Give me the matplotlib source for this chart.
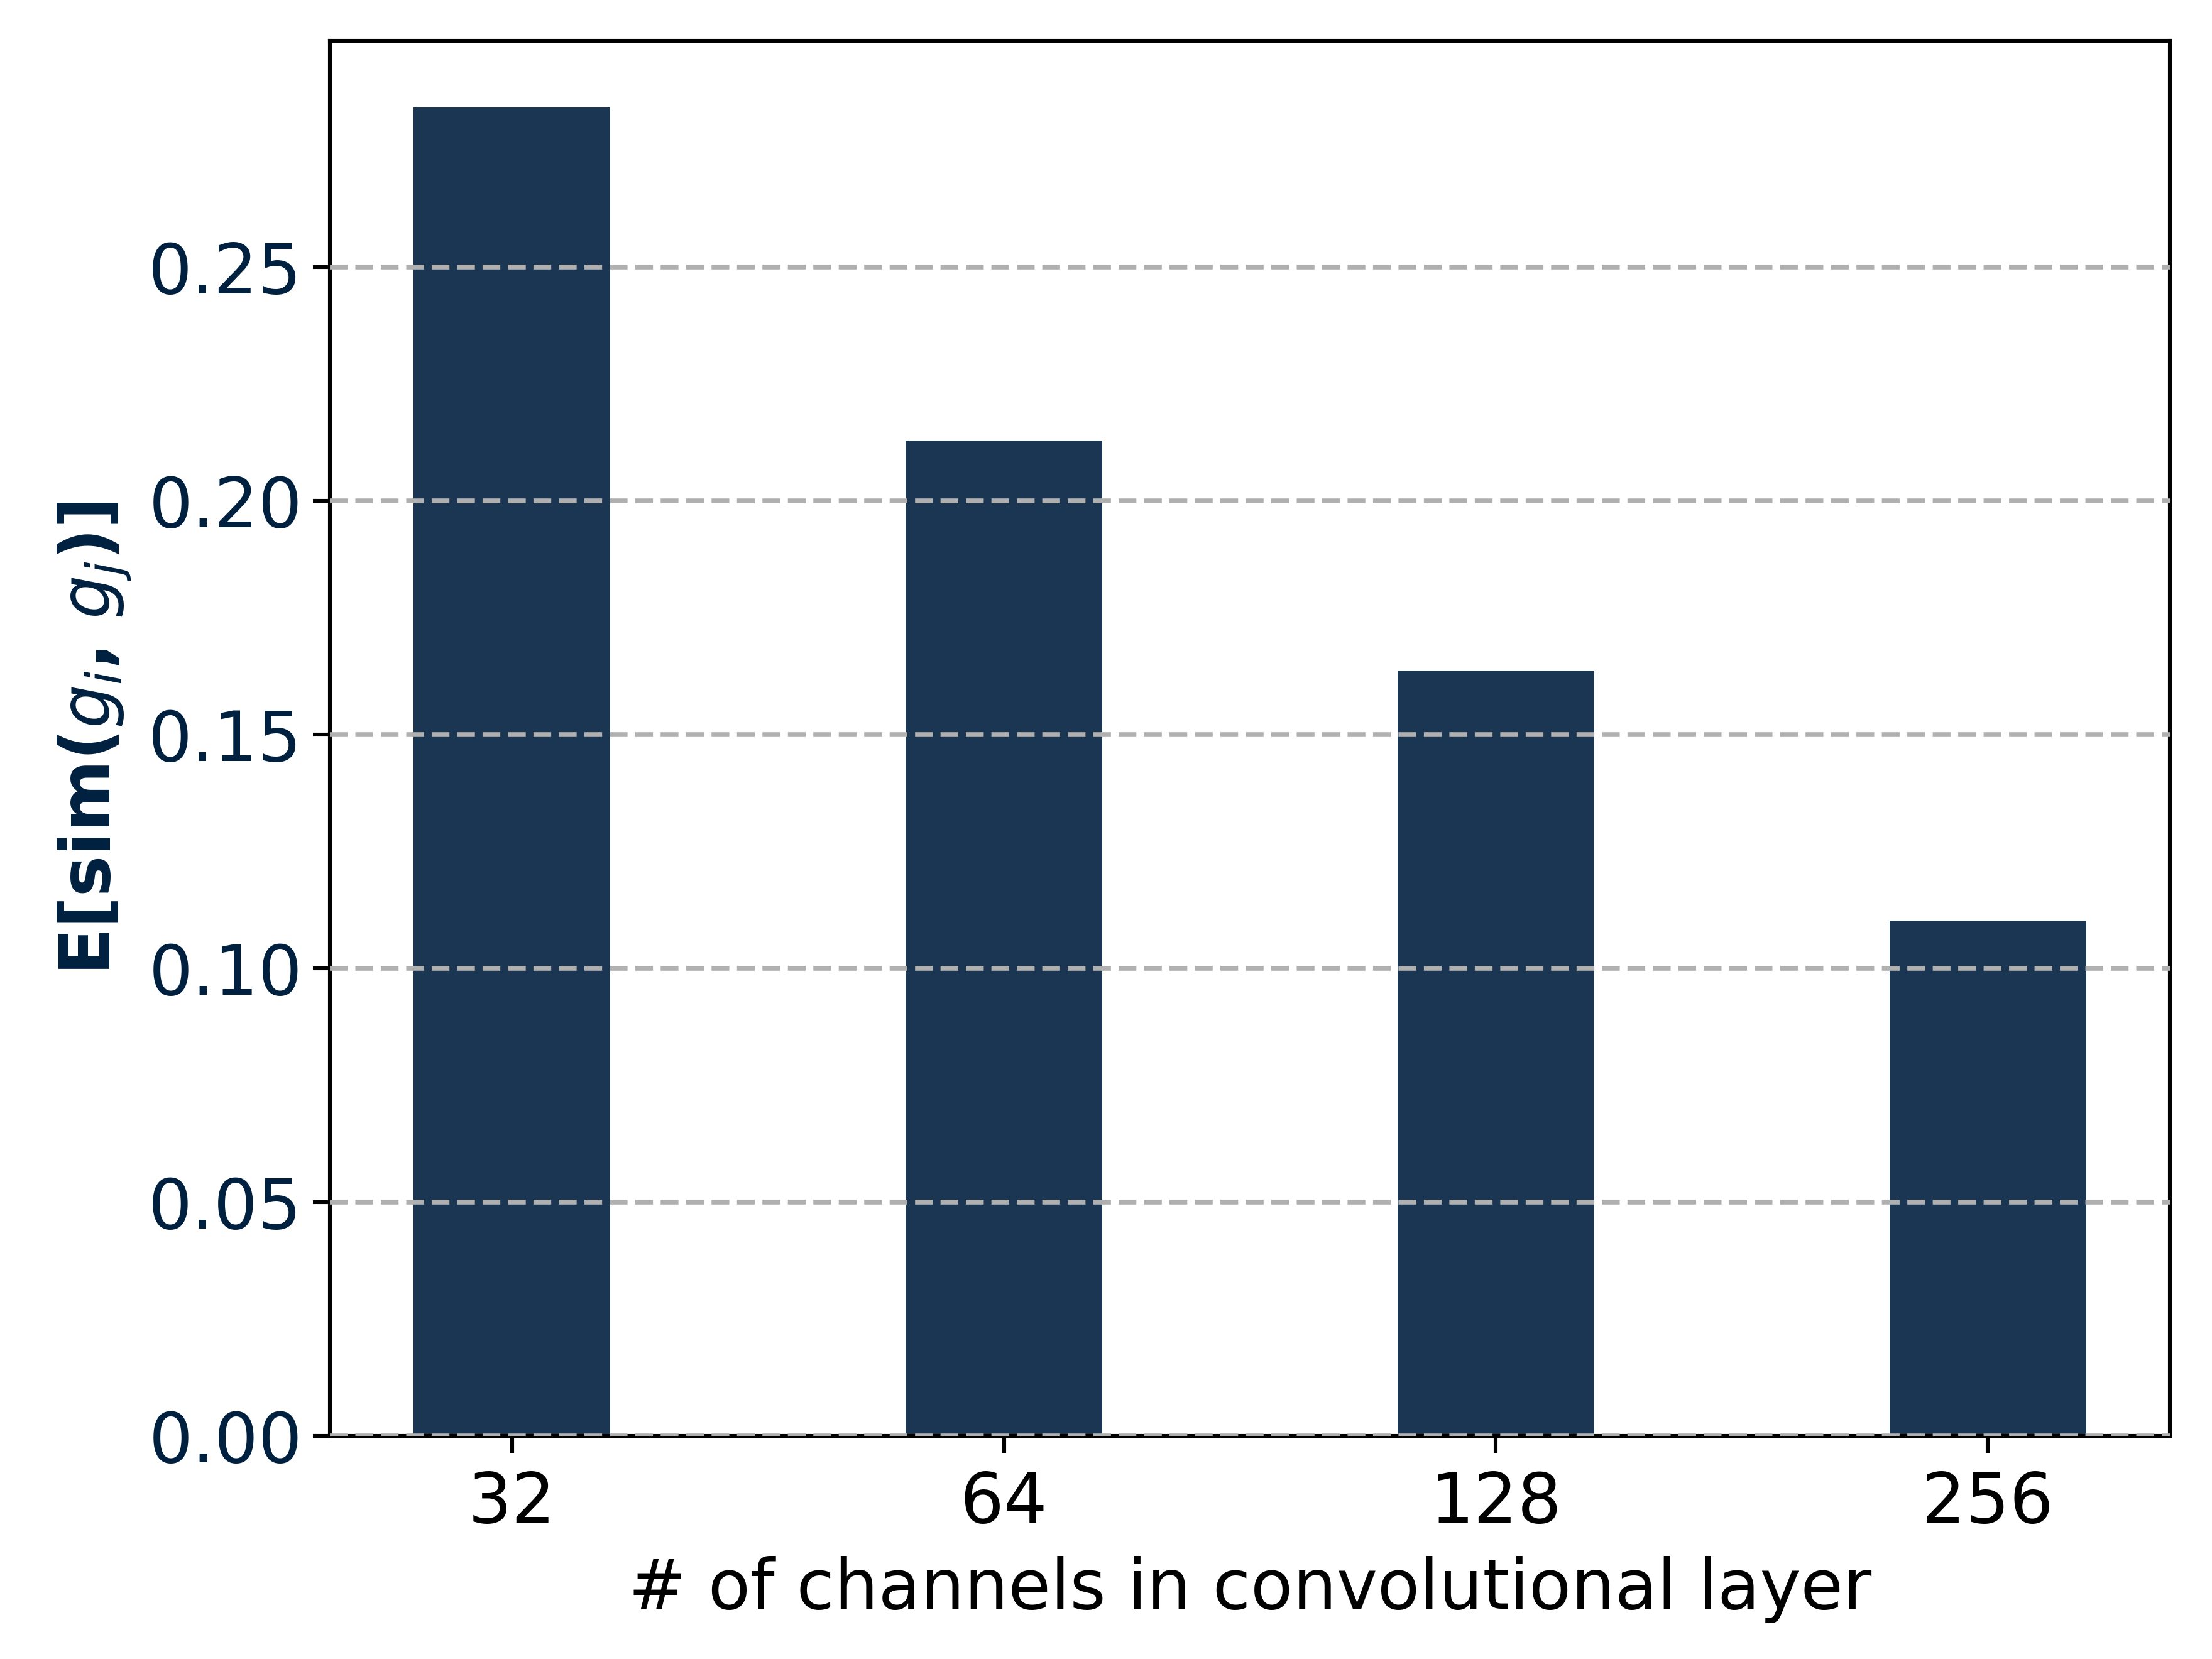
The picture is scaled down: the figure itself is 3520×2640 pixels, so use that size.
import matplotlib
matplotlib.use("Agg")
import matplotlib.pyplot as plt

# mean gradient similarity vs. conv width
channels = ["32", "64", "128", "256"]
sim_mean = [0.2842, 0.2130, 0.1638, 0.1102]

BAR = "#1b3652"
NAVY = "#002040"
FS = 14.4

fig, ax = plt.subplots(figsize=(6.4, 4.8), dpi=550)
x = range(len(channels))
ax.bar(x, sim_mean, width=0.4, color=BAR, zorder=1)
ax.set_xticks(list(x))
ax.set_xticklabels(channels, fontsize=FS)
ax.tick_params(axis="y", labelsize=FS, labelcolor=NAVY, pad=2.3)
ax.yaxis.grid(True, linestyle="--", color="#b0b0b0", linewidth=1.0, zorder=2)
ax.set_axisbelow(False)
ax.set_xlabel("# of channels in convolutional layer", fontsize=FS)
ax.set_ylabel(r"E[sim($g_i$, $g_j$)]", fontsize=FS, fontweight="bold",
              color=NAVY, labelpad=3.2)
fig.subplots_adjust(left=0.1492, right=0.9809, top=0.9753, bottom=0.1344)
fig.savefig("out.png")
plt.close(fig)
